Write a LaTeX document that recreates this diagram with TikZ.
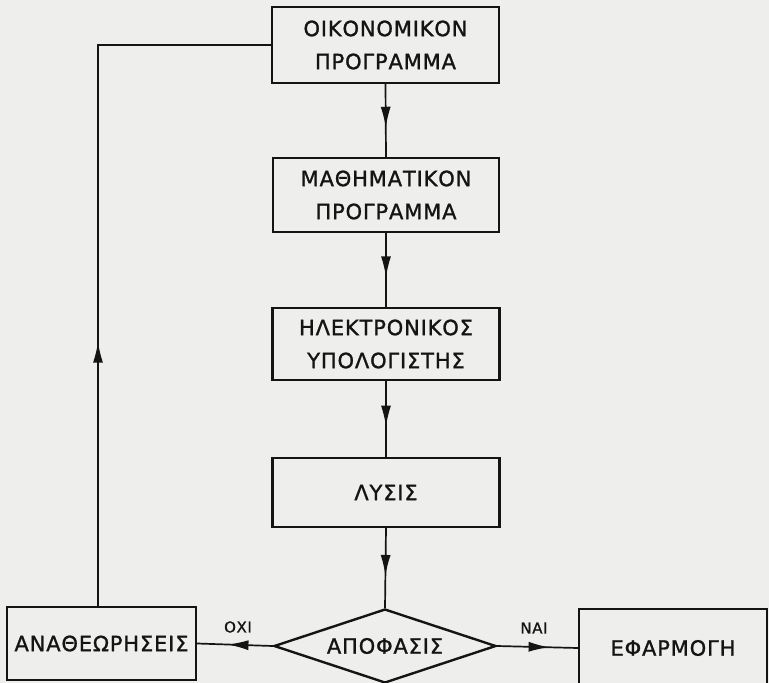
\documentclass[tikz,border=0pt]{standalone}
\usepackage{fontspec}
\newfontfamily\lbl[LetterSpace=4,FakeBold=1.2]{DejaVu Sans}
\usetikzlibrary{shapes.geometric,arrows.meta,decorations.markings}
\definecolor{paper}{RGB}{238,238,236}
\definecolor{ink}{RGB}{20,20,20}
\tikzset{
  stepbox/.style={draw=ink, line width=2.4pt, rectangle, inner sep=0pt, align=center,
    font=\lbl\fontsize{21}{33}\selectfont, text=ink},
  decbox/.style={draw=ink, line width=2.4pt, shape=diamond, aspect=3, inner sep=0pt,
    minimum width=222pt, minimum height=74pt, font=\lbl\fontsize{21}{33}\selectfont, text=ink},
  conn/.style={draw=ink, line width=1.7pt},
  midarrow/.style={postaction={decorate, decoration={markings,
    mark=at position #1 with {\arrow{Latex[length=21pt,width=10pt]}}}}},
  small/.style={font=\lbl\fontsize{15}{17}\selectfont, text=ink}
}
\begin{document}
\begin{tikzpicture}[x=1pt,y=-1pt]
\clip (0,0) rectangle (769,683);
\fill[paper] (0,0) rectangle (769,683);
\node[stepbox, minimum width=227pt, minimum height=76pt] (b1) at (385.5,45) {ΟΙΚΟΝΟΜΙΚΟΝ\\ΠΡΟΓΡΑΜΜΑ};
\node[stepbox, minimum width=226pt, minimum height=74pt] (b2) at (386,195) {ΜΑΘΗΜΑΤΙΚΟΝ\\ΠΡΟΓΡΑΜΜΑ};
\node[stepbox, minimum width=227pt, minimum height=72pt] (b3) at (386,344) {ΗΛΕΚΤΡΟΝΙΚΟΣ\\ΥΠΟΛΟΓΙΣΤΗΣ};
\node[stepbox, minimum width=227pt, minimum height=69pt] (b4) at (386,492.5) {ΛΥΣΙΣ};
\node[decbox] (d) at (385,646) {ΑΠΟΦΑΣΙΣ};
\node[stepbox, minimum width=189pt, minimum height=73pt] (ana) at (101.5,643.5) {ΑΝΑΘΕΩΡΗΣΕΙΣ};
\node[stepbox, minimum width=188pt, minimum height=78pt] (ef) at (673,648) {ΕΦΑΡΜΟΓΗ};
\draw[conn, midarrow=0.6] (b1.south) -- (b2.north);
\draw[conn, midarrow=0.6] (b2.south) -- (b3.north);
\draw[conn, midarrow=0.6] (b3.south) -- (b4.north);
\draw[conn, midarrow=0.6] (b4.south) -- (d.north);
\draw[conn, midarrow=0.6] (d.west) -- (ana.east);
\draw[conn, midarrow=0.65] (d.east) -- (ef.west);
\draw[conn, midarrow=0.36] ([xshift=-3.5pt]ana.north) |- (b1.west);
\node[small] (oxi) at (238,627) {ΟΧΙ};
\node[small] (nai) at (534,628) {ΝΑΙ};
\end{tikzpicture}
\end{document}
